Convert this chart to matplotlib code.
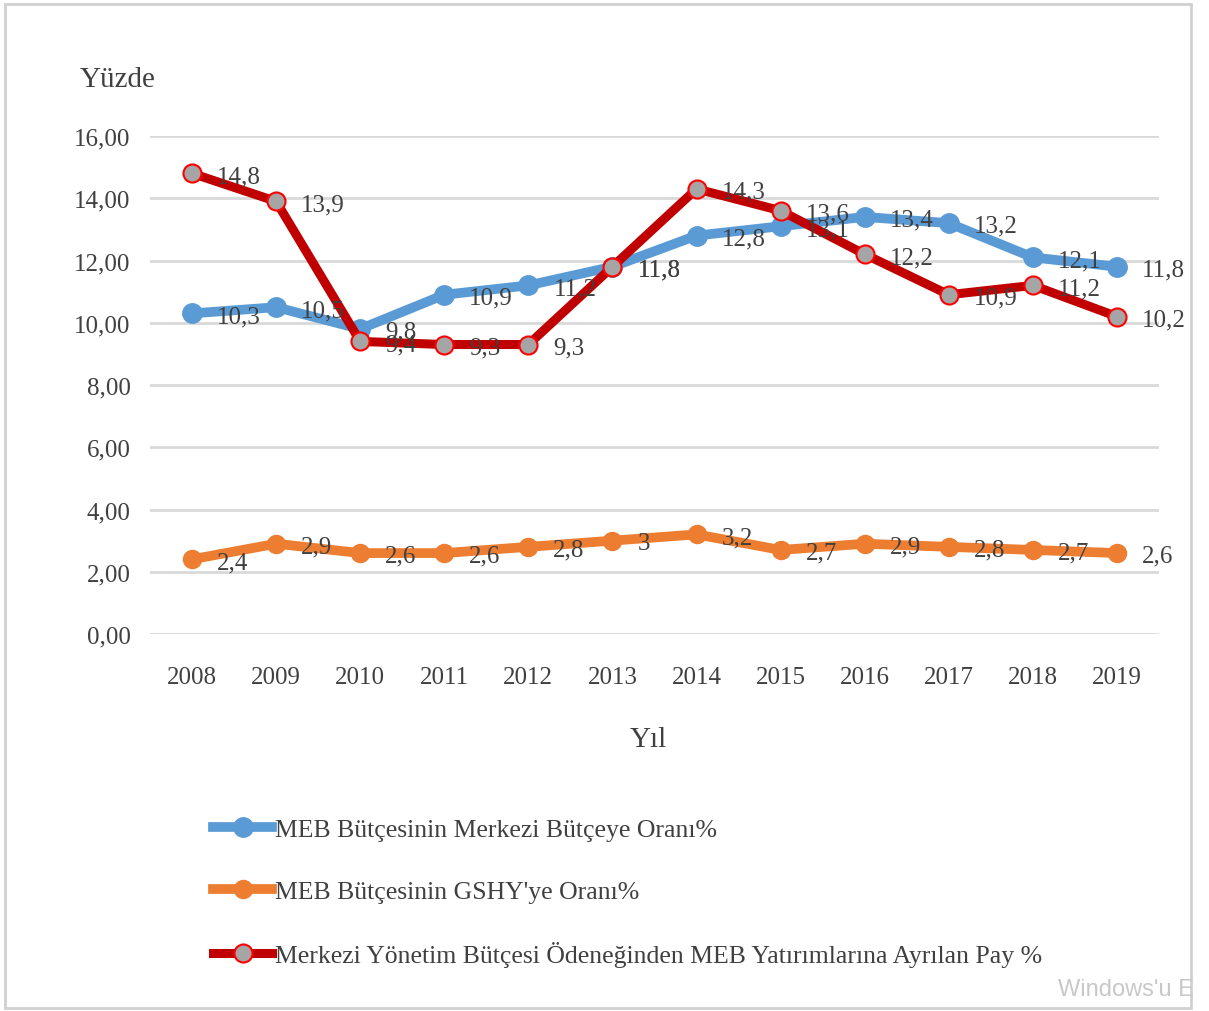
import matplotlib
matplotlib.use("Agg")
import matplotlib.pyplot as plt
from matplotlib.patches import Rectangle
from matplotlib.lines import Line2D

years = ["2008", "2009", "2010", "2011", "2012", "2013", "2014", "2015", "2016", "2017", "2018", "2019"]
meb_merkezi = [10.3, 10.5, 9.8, 10.9, 11.2, 11.8, 12.8, 13.1, 13.4, 13.2, 12.1, 11.8]
meb_gshy = [2.4, 2.9, 2.6, 2.6, 2.8, 3.0, 3.2, 2.7, 2.9, 2.8, 2.7, 2.6]
yatirim_pay = [14.8, 13.9, 9.4, 9.3, 9.3, 11.8, 14.3, 13.6, 12.2, 10.9, 11.2, 10.2]
series_names = ["MEB Bütçesinin Merkezi Bütçeye Oranı%",
                "MEB Bütçesinin GSHY'ye Oranı%",
                "Merkezi Yönetim Bütçesi Ödeneğinden MEB Yatırımlarına Ayrılan Pay %"]
yticks = [0, 2, 4, 6, 8, 10, 12, 14, 16]

plt.rcParams['font.family'] = ['Liberation Serif', 'DejaVu Serif']

fig = plt.figure(figsize=(12.09, 10.12), dpi=100)
ax = fig.add_axes([150/1209, 1-635/1012, (1159-150)/1209, (635-137)/1012])

x = list(range(len(years)))
blue = '#5B9BD5'
orange = '#ED7D31'
red = '#C00000'

ax.plot(x, meb_merkezi, color=blue, lw=7, marker='o', ms=14, mfc=blue, mec=blue,
        solid_capstyle='round', zorder=3, clip_on=False)
ax.plot(x, meb_gshy, color=orange, lw=7, marker='o', ms=13, mfc=orange, mec=orange,
        solid_capstyle='round', zorder=3, clip_on=False)
ax.plot(x, yatirim_pay, color=red, lw=6.5, marker='o', ms=13, mfc='#A5A5A5', mec='#FF0000',
        mew=1.5, zorder=4, clip_on=False)

def fmt(v):
    return ('%g' % v).replace('.', ',')

for series in (meb_merkezi, meb_gshy, yatirim_pay):
    for xi, v in zip(x, series):
        ax.annotate(fmt(v), (xi, v), xytext=(18, -2), textcoords='offset points',
                    ha='left', va='center', fontsize=18, color='#404040', zorder=5)

ax.set_xlim(-0.5, len(years) - 0.5)
ax.set_ylim(0, 16)
ax.set_yticks(yticks)
ax.yaxis.set_major_formatter(matplotlib.ticker.FuncFormatter(lambda v, p: ('%.2f' % v).replace('.', ',')))
ax.set_xticks(x)
ax.set_xticklabels(years)
ax.tick_params(axis='both', length=0, labelsize=18, colors='#404040')
ax.tick_params(axis='y', pad=14)
ax.tick_params(axis='x', pad=23)
ax.grid(axis='y', color='#D9D9D9', lw=2)
ax.set_axisbelow(True)
for s in ax.spines.values():
    s.set_visible(False)

fig.text(80/1209, 1-80/1012, 'Yüzde', fontsize=21, color='#404040', ha='left', va='center')
fig.text(648/1209, 1-740/1012, 'Yıl', fontsize=21, color='#404040', ha='center', va='center')

handles = [
    Line2D([], [], color=blue, lw=7, marker='o', ms=14, mfc=blue, mec=blue),
    Line2D([], [], color=orange, lw=7, marker='o', ms=13, mfc=orange, mec=orange),
    Line2D([], [], color=red, lw=6.5, marker='o', ms=13, mfc='#A5A5A5', mec='#FF0000', mew=1.5),
]
leg = fig.legend(handles, series_names, loc='upper left', bbox_to_anchor=(213/1209, 1-819/1012),
                 frameon=False, fontsize=18.5, handlelength=2.3, handletextpad=0.1,
                 labelspacing=1.5, borderpad=0, borderaxespad=0, labelcolor='#404040')

fig.patches.append(Rectangle((5/1209, 1-1009/1012), (1191-5)/1209, (1009-5)/1012,
                             transform=fig.transFigure, fill=False, edgecolor='#D0D0D0', lw=2))
fig.text(1058/1209, 1-990/1012, "Windows'u E", fontsize=17, color='#C8C8C8',
         family=['Liberation Sans', 'DejaVu Sans'], ha='left', va='center')

fig.savefig('out.png', dpi=100)
